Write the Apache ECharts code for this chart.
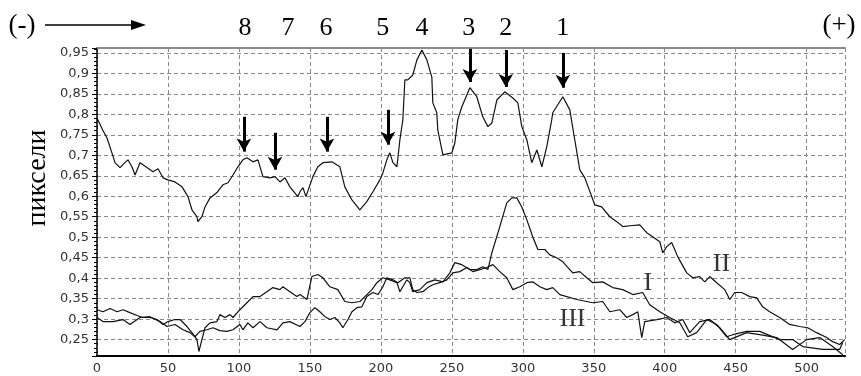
<!DOCTYPE html>
<html>
<head>
<meta charset="utf-8">
<script src="https://cdn.jsdelivr.net/npm/echarts@6/dist/echarts.min.js"></script>
<style>
  html, body { margin: 0; background: #fff; }
  #chart { width: 861px; height: 376px; }
</style>
</head>
<body>
<div id="chart"></div>
<script>
// profile curves, [x, value]
const lineI = [[0,0.323],[4.2,0.318],[9.2,0.326],[14.1,0.318],[18.3,0.323],[23.2,0.316],[28.2,0.309],[32.4,0.304],[37.3,0.304],[42.3,0.299],[46.5,0.287],[50,0.294],[54.9,0.299],[58.5,0.299],[63.4,0.282],[66.9,0.267],[70.4,0.250],[71.8,0.221],[73.9,0.250],[76.1,0.279],[79.6,0.291],[84.5,0.294],[86.6,0.311],[90.1,0.304],[93.7,0.311],[95.8,0.304],[100.7,0.323],[105.6,0.340],[109.9,0.355],[114.8,0.355],[119.7,0.367],[123.9,0.377],[128.9,0.372],[131,0.379],[135.9,0.367],[140.8,0.355],[143,0.360],[147.9,0.348],[151.4,0.404],[155.6,0.409],[159.2,0.401],[164.1,0.379],[169.7,0.372],[174.6,0.343],[179.6,0.340],[185.2,0.343],[188.7,0.355],[193.7,0.372],[197.2,0.389],[201.4,0.401],[206.3,0.396],[211.3,0.389],[213.4,0.367],[218.3,0.396],[220.4,0.389],[222.5,0.367],[227.5,0.372],[232.4,0.389],[238,0.396],[243.7,0.391],[248.6,0.413],[252.1,0.438],[257,0.433],[262.7,0.421],[267.6,0.421],[271.8,0.428],[275.4,0.421],[278.2,0.462],[283.8,0.526],[288.7,0.584],[292.3,0.596],[295.8,0.596],[299.3,0.574],[302.8,0.543],[307,0.501],[310.6,0.470],[315.5,0.470],[319,0.457],[323.9,0.450],[328.2,0.440],[335.2,0.413],[340.1,0.416],[345.1,0.401],[349.3,0.389],[356.3,0.391],[363.4,0.377],[370.4,0.372],[377.5,0.360],[384.5,0.365],[389.4,0.335],[396.5,0.318],[403.5,0.304],[410.6,0.291],[416.2,0.257],[422.5,0.267],[429.6,0.299],[436.6,0.287],[443.7,0.257],[447.9,0.262],[457.7,0.270],[466.9,0.270],[481,0.250],[490.1,0.250],[497.2,0.233],[511.3,0.226],[523.2,0.226],[525.4,0.243]];

const lineII = [[0,0.791],[4,0.762],[7,0.743],[10.5,0.706],[12.7,0.682],[16.2,0.670],[19.7,0.682],[21.8,0.689],[24.6,0.672],[26.8,0.652],[30.3,0.682],[35.2,0.670],[39.4,0.660],[43,0.667],[46.5,0.645],[50,0.640],[54.9,0.635],[59.9,0.623],[64.1,0.599],[66.9,0.567],[70.4,0.550],[71.1,0.538],[73.9,0.550],[76.1,0.574],[79.6,0.596],[84.5,0.609],[88.7,0.628],[92.3,0.633],[95.8,0.652],[99.3,0.672],[102.8,0.689],[105.6,0.694],[109.9,0.684],[113.4,0.689],[116.9,0.648],[121.8,0.645],[125.4,0.648],[128.9,0.635],[132.4,0.645],[135.9,0.623],[141.5,0.599],[143,0.611],[145.1,0.621],[147.2,0.599],[148.6,0.599],[152.1,0.648],[155.6,0.672],[159.2,0.682],[165.5,0.684],[171.1,0.672],[174.6,0.623],[179.6,0.591],[185.2,0.567],[190.1,0.587],[194.4,0.611],[199.3,0.640],[201.4,0.657],[204.2,0.689],[206.3,0.706],[208.5,0.682],[211.3,0.672],[213.4,0.738],[215.5,0.787],[216.9,0.884],[219,0.884],[222.5,0.896],[225.4,0.933],[228.9,0.957],[232.4,0.933],[235.9,0.891],[236.6,0.828],[239.4,0.804],[240.1,0.762],[241.5,0.738],[243.7,0.701],[250,0.706],[252.1,0.730],[254.2,0.787],[257,0.818],[262.7,0.865],[267.6,0.843],[271.8,0.794],[275.4,0.770],[278.2,0.779],[281.7,0.835],[287.3,0.855],[293,0.840],[296.5,0.828],[299.3,0.770],[302.8,0.738],[306.3,0.682],[309.9,0.713],[313.4,0.672],[316.9,0.721],[320.4,0.787],[321.1,0.804],[328.2,0.843],[333.1,0.811],[336.6,0.738],[340.1,0.665],[343.7,0.645],[348.6,0.599],[350.7,0.579],[355.6,0.574],[361.3,0.550],[366.2,0.538],[370.4,0.526],[375.4,0.528],[382.4,0.530],[387.3,0.511],[391.5,0.501],[396.5,0.489],[398.6,0.462],[401.4,0.477],[404.9,0.487],[409.2,0.452],[415.5,0.413],[419.7,0.401],[424.6,0.404],[428.2,0.391],[431.7,0.404],[436.6,0.389],[442.3,0.372],[445.8,0.348],[449.3,0.365],[454.2,0.365],[459.9,0.355],[464.8,0.352],[469,0.330],[473.9,0.318],[481,0.304],[488,0.287],[495.1,0.282],[500.7,0.279],[507,0.267],[514.1,0.255],[518.3,0.245],[523.2,0.238],[526.8,0.250]];

const lineIII = [[0,0.304],[4.2,0.294],[11.3,0.294],[18.3,0.299],[23.2,0.287],[30.3,0.304],[37.3,0.306],[44.4,0.294],[49.3,0.282],[54.9,0.287],[60.6,0.274],[65.5,0.267],[69,0.257],[72.5,0.270],[77.5,0.274],[81.7,0.279],[86.6,0.272],[91.5,0.270],[95.8,0.274],[100.7,0.287],[102.8,0.274],[106.3,0.291],[109.9,0.279],[114.8,0.294],[119.7,0.279],[126.8,0.274],[131,0.291],[135.9,0.294],[143,0.282],[146.5,0.294],[150,0.316],[153.5,0.328],[157,0.318],[160.6,0.306],[164.1,0.299],[167.6,0.304],[171.1,0.291],[173.2,0.279],[176.8,0.299],[179.6,0.318],[183.1,0.328],[186.6,0.330],[190.1,0.355],[194.4,0.365],[197.9,0.360],[201.4,0.379],[204.2,0.401],[208.5,0.396],[212,0.389],[216.9,0.401],[220.4,0.401],[222.5,0.372],[225.4,0.365],[229.6,0.367],[233.1,0.377],[236.6,0.384],[241.5,0.389],[246.5,0.396],[250.7,0.413],[255.6,0.416],[260.6,0.426],[264.8,0.416],[269.7,0.421],[274.6,0.426],[278.9,0.433],[283.8,0.416],[288.7,0.401],[293,0.372],[297.9,0.379],[302.8,0.389],[307,0.391],[312,0.379],[316.9,0.372],[321.1,0.377],[326.1,0.360],[338,0.348],[349.3,0.340],[356.3,0.343],[361.3,0.318],[368.3,0.323],[373.2,0.304],[377.5,0.311],[381,0.318],[383.8,0.255],[385.9,0.294],[394.4,0.299],[401.4,0.304],[407,0.291],[412.7,0.299],[417.6,0.267],[424.6,0.294],[431.7,0.299],[438.7,0.279],[445.8,0.250],[457.7,0.267],[466.9,0.262],[478.9,0.255],[490.1,0.226],[500,0.250],[509.2,0.255],[518.3,0.233],[525.4,0.213]];

// peak numbers along the top and the arrows pointing at peaks
const peakLabels = ['8', '7', '6', '5', '4', '3', '2', '1'];
const peakLabelX = [104.2, 134.5, 161.3, 201.4, 228.9, 262, 288, 328.2];
const arrowX = [103.5, 125.4, 162, 205, 262.7, 288, 328.2];
const arrowTop = [0.794, 0.755, 0.794, 0.811, 0.96, 0.957, 0.95];
const arrowBottom = [0.709, 0.665, 0.709, 0.726, 0.879, 0.867, 0.865];

// curve names placed next to the curves
const curveNames = ['I', 'II', 'III'];
const curveNameX = [388, 440, 335];
const curveNameY = [0.387, 0.435, 0.301];

const xMax = 527;
const yMin = 0.21;
const yMax = 0.962;

const serif = '"Liberation Serif", "DejaVu Serif", serif';
const sans = '"DejaVu Sans", Verdana, sans-serif';

function lineSeries(name, data) {
  return {
    name: name,
    type: 'line',
    data: data,
    showSymbol: false,
    symbol: 'none',
    lineStyle: { color: '#111', width: 1.2 },
    z: 3
  };
}

const seriesII = lineSeries('II', lineII);
seriesII.markLine = {
  silent: true,
  symbol: ['none', 'arrow'],
  symbolSize: [11, 13],
  label: { show: false },
  lineStyle: { color: '#000', width: 3, type: 'solid' },
  data: arrowX.map((x, i) => [{ coord: [x, arrowTop[i]] }, { coord: [x, arrowBottom[i]] }])
};

const option = {
  animation: false,
  backgroundColor: '#fff',
  grid: { left: 97, right: 16, top: 48, bottom: 20, containLabel: false },
  xAxis: [{
    type: 'value',
    min: 0,
    max: xMax,
    interval: 50,
    axisLine: { lineStyle: { color: '#000', width: 2 } },
    axisTick: { show: false },
    axisLabel: { color: '#333', fontSize: 13, fontFamily: sans, margin: 6, showMaxLabel: false },
    splitLine: { lineStyle: { color: '#888', type: [4, 3], width: 1 } }
  }, {
    type: 'value',
    position: 'top',
    min: 0,
    max: xMax,
    axisLine: { show: true, lineStyle: { color: '#8a8a8a', width: 2 } },
    axisTick: { show: false },
    axisLabel: { show: false },
    splitLine: { show: false }
  }],
  yAxis: {
    type: 'value',
    min: yMin,
    max: yMax,
    splitNumber: 15,
    minInterval: 0.05,
    maxInterval: 0.05,
    axisLine: { show: true, lineStyle: { color: '#000', width: 1.5 } },
    axisTick: { show: true, length: 5, lineStyle: { color: '#000' } },
    minorTick: { show: true, splitNumber: 5, length: 3, lineStyle: { color: '#000' } },
    axisLabel: {
      color: '#333', fontSize: 13, fontFamily: sans, margin: 8,
      showMinLabel: false, showMaxLabel: false,
      formatter: v => String(Math.round(v * 100) / 100).replace('.', ',')
    },
    splitLine: { lineStyle: { color: '#888', type: [4, 3], width: 1 } }
  },
  series: [
    lineSeries('I', lineI),
    seriesII,
    lineSeries('III', lineIII),
    {
      type: 'scatter',
      symbolSize: 1,
      itemStyle: { color: 'rgba(0,0,0,0)' },
      silent: true,
      data: curveNames.map((n, i) => ({ name: n, value: [curveNameX[i], curveNameY[i]] })),
      label: {
        show: true, position: 'inside', formatter: '{b}',
        color: '#000', fontFamily: serif, fontSize: 26
      },
      z: 4
    }
  ]
};

const chart = echarts.init(document.getElementById('chart'));
chart.setOption(option);

const graphics = peakLabels.map((t, i) => ({
  type: 'text',
  x: chart.convertToPixel({ xAxisIndex: 0 }, peakLabelX[i]),
  y: 28,
  style: { text: t, fontFamily: serif, fontSize: 26, fill: '#000', align: 'center', verticalAlign: 'middle' }
}));

graphics.push(
  { type: 'text', x: 22, y: 26, style: { text: '(-)', fontFamily: serif, fontSize: 27, fill: '#000', align: 'center', verticalAlign: 'middle' } },
  { type: 'text', x: 839, y: 26, style: { text: '(+)', fontFamily: serif, fontSize: 27, fill: '#000', align: 'center', verticalAlign: 'middle' } },
  { type: 'line', shape: { x1: 45, y1: 25, x2: 134, y2: 25 }, style: { stroke: '#000', lineWidth: 1.5 } },
  { type: 'polygon', shape: { points: [[131, 20], [146, 25], [131, 30]] }, style: { fill: '#000' } },
  {
    type: 'text', x: 38, y: 178, rotation: Math.PI / 2,
    style: { text: 'пиксели', fontFamily: serif, fontSize: 28, fill: '#000', align: 'center', verticalAlign: 'middle' }
  }
);

chart.setOption({ graphic: graphics });
</script>
</body>
</html>
